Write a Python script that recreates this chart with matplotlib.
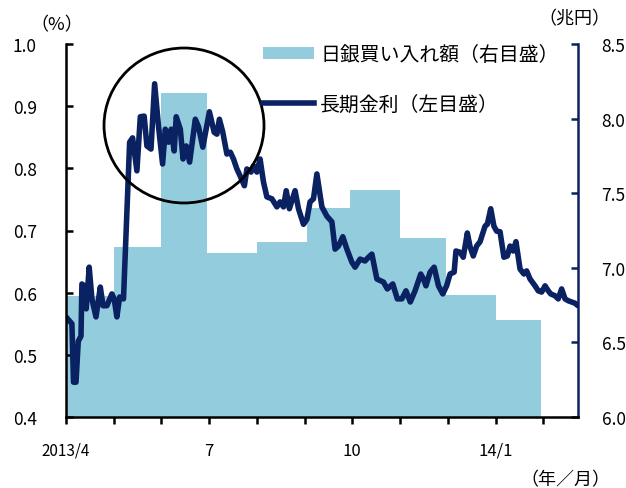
import matplotlib.pyplot as plt
from matplotlib.patches import Ellipse, Patch
from matplotlib.lines import Line2D
import numpy as np

plt.rcParams["font.family"] = ["Noto Sans CJK JP", "DejaVu Sans"]

# business days in each month (Apr 2013 .. Jan 2014) and BOJ purchases (trillion yen)
month_days = [21, 21, 20, 22, 22, 19, 22, 20, 22, 20]
boj_buy = [6.81, 7.14, 8.17, 7.10, 7.17, 7.40, 7.52, 7.20, 6.82, 6.65]

# long-term rate (%), x = business-day index from 2013/4/1
rate_day = [0, 2.6, 3.3, 4.4, 5.4, 6.6, 7.0, 8.0, 8.9, 10.2, 11.4, 13.2, 15.1, 16.3,
            18.0, 20.2, 21.2, 22.4, 23.6, 25.3, 26.8, 28.0, 29.3, 31.2, 32.7, 34.4,
            35.6, 37.4, 39.0, 40.7, 42.5, 43.7, 45.1, 46.3, 47.6, 48.5, 50.3, 51.5,
            52.9, 54.4, 56.9, 58.3, 60.2, 63.1, 65.2, 66.4, 67.5, 69.0, 70.8, 72.3,
            73.7, 75.2, 76.6, 78.5, 79.6, 81.4, 82.5, 84.0, 85.4, 86.9, 88.4, 90.6,
            92.8, 94.2, 95.7, 96.9, 98.3, 100.8, 102.3, 104.5, 106.0, 107.4, 108.9,
            110.4, 112.6, 114.8, 117.0, 118.4, 119.9, 121.8, 123.6, 125.8, 127.2,
            129.4, 131.6, 133.1, 134.6, 136.8, 139.7, 141.4, 143.8, 145.8, 147.8,
            149.6, 151.5, 153.6, 156.1, 157.3, 158.4, 160.2, 162.0, 163.9, 165.8,
            167.5, 169.0, 170.8, 171.6, 173.4, 174.8, 176.6, 177.8, 179.2, 180.7,
            182.2, 184.4, 185.4, 186.9, 188.3, 189.5, 191.0, 192.7, 194.2, 195.4,
            196.8, 198.0, 199.8, 201.5, 202.7, 204.2, 206.4, 207.8, 209.3, 210.8,
            212.2, 213.3, 215.2, 216.6, 218.1, 219.6, 221.0, 222.5, 224.0, 225.3]
rate_val = [0.561, 0.550, 0.456, 0.456, 0.522, 0.530, 0.614, 0.611, 0.574, 0.641,
            0.590, 0.561, 0.609, 0.579, 0.579, 0.598, 0.590, 0.561, 0.593, 0.590,
            0.730, 0.842, 0.849, 0.796, 0.883, 0.884, 0.836, 0.831, 0.936, 0.868,
            0.807, 0.863, 0.842, 0.863, 0.828, 0.883, 0.863, 0.815, 0.836, 0.810,
            0.879, 0.867, 0.834, 0.891, 0.858, 0.855, 0.879, 0.858, 0.823, 0.826,
            0.815, 0.799, 0.788, 0.772, 0.799, 0.794, 0.804, 0.794, 0.815, 0.778,
            0.754, 0.751, 0.738, 0.746, 0.738, 0.764, 0.735, 0.764, 0.735, 0.710,
            0.718, 0.746, 0.751, 0.791, 0.738, 0.723, 0.714, 0.670, 0.675, 0.690,
            0.670, 0.649, 0.641, 0.654, 0.651, 0.657, 0.662, 0.622, 0.617, 0.606,
            0.614, 0.590, 0.590, 0.603, 0.585, 0.603, 0.630, 0.622, 0.611, 0.633,
            0.641, 0.611, 0.598, 0.611, 0.630, 0.633, 0.667, 0.665, 0.657, 0.696,
            0.674, 0.659, 0.675, 0.682, 0.707, 0.710, 0.735, 0.707, 0.699, 0.698,
            0.657, 0.659, 0.675, 0.667, 0.682, 0.638, 0.630, 0.635, 0.622, 0.611,
            0.603, 0.601, 0.611, 0.603, 0.598, 0.595, 0.590, 0.606, 0.590, 0.587,
            0.585, 0.583, 0.579]

tick_labels = {0: "2013/4", 63: "7", 126: "10", 189: "14/1"}

NAVY = "#0a2162"
BAR = "#93cddd"

fig = plt.figure(figsize=(6.26, 4.89), dpi=100)
ax = fig.add_axes([66 / 626, 71 / 489, 512 / 626, 373 / 489])
ax2 = ax.twinx()

# bars on the right scale
edges = np.concatenate([[0], np.cumsum(month_days)])
ax2.bar(edges[:-1], np.array(boj_buy) - 6.0, width=month_days, bottom=6.0,
        align="edge", color=BAR, linewidth=0)
ax2.set_ylim(6.0, 8.5)
ax2.set_yticks(np.arange(6.0, 8.51, 0.5))
ax2.set_yticklabels([f"{v:.1f}" for v in np.arange(6.0, 8.51, 0.5)], fontsize=12.5)

# line on the left scale, drawn on top
ax.set_zorder(ax2.get_zorder() + 1)
ax.patch.set_visible(False)
ax.plot(rate_day, rate_val, color=NAVY, linewidth=4, solid_joinstyle="round",
        solid_capstyle="round")
ax.set_ylim(0.4, 1.0)
ax.set_yticks(np.arange(0.4, 1.01, 0.1))
ax.set_yticklabels([f"{v:.1f}" for v in np.arange(0.4, 1.01, 0.1)], fontsize=12.5)
ax.set_xlim(0, 225.3)
ax.set_xticks(np.arange(0, 211, 21))
ax.set_xticklabels([tick_labels.get(t, "") for t in range(0, 211, 21)], fontsize=12)
first = ax.get_xticklabels()[0]
first.set_fontsize(11)

for a in (ax, ax2):
    a.spines["top"].set_visible(False)
ax.spines["left"].set_linewidth(1.8)
ax.spines["bottom"].set_linewidth(1.8)
ax.spines["right"].set_visible(False)
ax2.spines["left"].set_visible(False)
ax2.spines["bottom"].set_visible(False)
ax2.spines["right"].set_color(NAVY)
ax2.spines["right"].set_linewidth(1.8)

ax.tick_params(axis="y", direction="in", length=5, width=1.8, pad=21)
ax.tick_params(axis="x", direction="out", length=5, width=1.8, pad=13)
ax2.tick_params(axis="y", direction="in", length=5, width=1.8, color=NAVY, pad=17)

# circle highlighting the spike
ax.add_patch(Ellipse((0.2305, 0.7815), 0.3125, 0.4155, transform=ax.transAxes,
                     fill=False, edgecolor="black", linewidth=2, clip_on=False, zorder=5))

handles = [Patch(facecolor=BAR, edgecolor="none"),
           Line2D([0], [0], color=NAVY, linewidth=4)]
ax.legend(handles, ["日銀買い入れ額（右目盛）", "長期金利（左目盛）"],
          loc="upper left", bbox_to_anchor=(0.384, 1.0), frameon=False,
          fontsize=14.3, handlelength=2.6, handleheight=0.6, handletextpad=0.3,
          labelspacing=1.45, borderaxespad=0, borderpad=0)

fig.text(30 / 626, 1 - 25 / 489, "（%）", fontsize=13, va="center", ha="left")
fig.text(610 / 626, 1 - 19 / 489, "（兆円）", fontsize=13, va="center", ha="right")
fig.text(610 / 626, 1 - 480 / 489, "（年／月）", fontsize=13, va="center", ha="right")

fig.savefig("out.png", dpi=100)
